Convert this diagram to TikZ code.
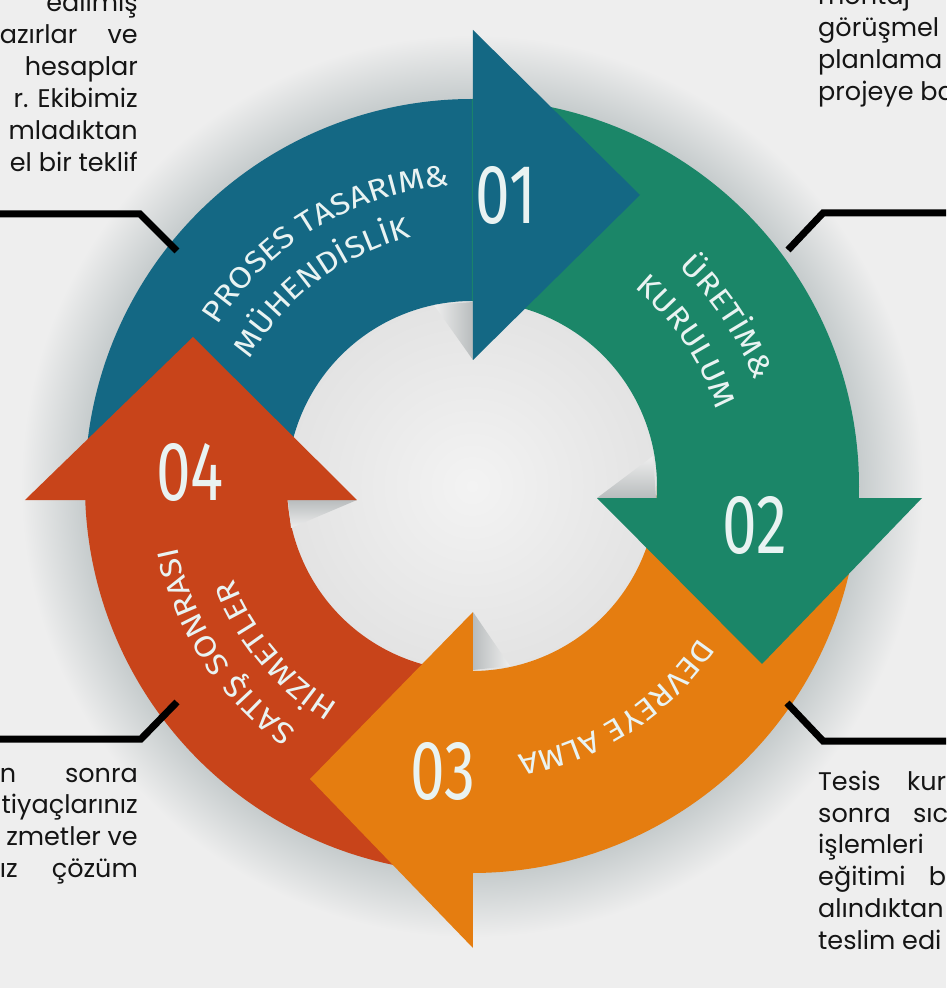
\documentclass[tikz,border=0pt]{standalone}
\usepackage{fontspec}
\setmainfont{Poppins}
\newfontfamily\arcfam[FakeStretch=1.12]{Fira Sans}
\newfontfamily\numfam[FakeStretch=0.74]{Fira Sans}
\usetikzlibrary{decorations.text}

\definecolor{bgGray}{HTML}{EEEEEE}
\definecolor{haloGray}{HTML}{C4CACB}
\definecolor{holeLight}{HTML}{F3F3F3}
\definecolor{holeEdge}{HTML}{E3E3E3}
\definecolor{foldGray}{HTML}{B8BCBD}
\definecolor{stepTeal}{HTML}{146884}
\definecolor{stepGreen}{HTML}{1B8668}
\definecolor{stepOrange}{HTML}{E57D10}
\definecolor{stepRed}{HTML}{C8441A}
\definecolor{labelWhite}{HTML}{E9F3F2}
\definecolor{bodyInk}{HTML}{151515}

\pgfdeclareradialshading{ringhalo}{\pgfpointorigin}{color(0bp)=(haloGray); color(20.4bp)=(haloGray); color(24bp)=(bgGray); color(50bp)=(bgGray)}

\newcommand\arcfont{\arcfam\fontsize{30}{32}\selectfont}

\tikzset{
  connector/.style={line width=7pt, black, line join=miter},
  bodyR/.style={anchor=base east, inner sep=0pt, font=\fontsize{25.5}{32}\selectfont, text=bodyInk},
  bodyL/.style={anchor=base west, inner sep=0pt, font=\fontsize{25.5}{32}\selectfont, text=bodyInk},
  numlabel/.style={inner sep=0pt, font=\numfam\fontsize{84}{84}\selectfont, text=labelWhite},
  arclabel/.style={decorate, decoration={text along path, text align=center, text color=labelWhite}}
}

\begin{document}
\begin{tikzpicture}[x=1pt,y=1pt]
            \useasboundingbox (-472,-502) rectangle (474,486);
            \clip (-472,-502) rectangle (474,486);
            \fill[bgGray] (-472,-502) rectangle (474,486);
            \shade[shading=ringhalo] (0,0) circle[radius=470];
            \shade[inner color=holeLight, outer color=holeEdge] (0,0) circle[radius=187];

            % ring parts
            \fill[stepTeal] (180:387) arc[start angle=180, end angle=84, radius=387] -- (84:185) arc[start angle=84, end angle=180, radius=185] -- cycle;
            \fill[stepOrange] (0:387) arc[start angle=0, end angle=-96, radius=387] -- (-96:185) arc[start angle=-96, end angle=0, radius=185] -- cycle;
            \fill[stepGreen] (90:387) arc[start angle=90, end angle=-6, radius=387] -- (-6:185) arc[start angle=-6, end angle=90, radius=185] -- cycle;
            \fill[stepRed] (-90:387) arc[start angle=-90, end angle=-186, radius=387] -- (-186:185) arc[start angle=-186, end angle=-90, radius=185] -- cycle;

            % folds under the heads
            \shade[left color=bgGray, right color=foldGray] (-38,181) -- (1,184) -- (1,126) -- cycle;
            \shade[top color=bgGray, bottom color=foldGray] (125,-12) -- (184,-12) -- (181,30) -- cycle;
            \shade[left color=foldGray, right color=bgGray] (1,-126) -- (1,-184) -- (38,-180) -- cycle;
            \shade[top color=foldGray, bottom color=bgGray] (-115,-14) -- (-184,-14) -- (-181,-42) -- cycle;

            % heads
            \fill[stepTeal] (1,126) -- (1,456) -- (168,291) -- cycle;
            \fill[stepGreen] (125,-12) -- (450,-12) -- (290,-178) -- cycle;
            \fill[stepOrange] (1,-126) -- (1,-462) -- (-162,-293) -- cycle;
            \fill[stepRed] (-115,-14) -- (-447,-14) -- (-279,149) -- cycle;

            % labels on the ring
            \path[arclabel, decoration={text={|\arcfont|PROSES TASARIM{\&}}}] (166:301) arc[start angle=166, end angle=76, radius=301];
            \path[arclabel, decoration={text={|\arcfont|MÜHENDİSLİK}}] (172:256) arc[start angle=172, end angle=82, radius=256];
            \path[arclabel, decoration={text={|\arcfont|ÜRETİM{\&}}}] (78:301) arc[start angle=78, end angle=-11, radius=301];
            \path[arclabel, decoration={text={|\arcfont|KURULUM}}] (79:256) arc[start angle=79, end angle=-11, radius=256];
            \path[arclabel, decoration={text={|\arcfont|DEVREYE ALMA}}] (-12:273) arc[start angle=-12, end angle=-102, radius=273];
            \path[arclabel, decoration={text={|\arcfont|SATIŞ SONRASI}}] (-102:301) arc[start angle=-102, end angle=-192, radius=301];
            \path[arclabel, decoration={text={|\arcfont|HİZMETLER}}] (-95:256) arc[start angle=-95, end angle=-185, radius=256];

            \node[numlabel] (n01) at (34,291) {01};
            \node[numlabel] (n02) at (283,-39) {02};
            \node[numlabel] (n03) at (-29,-285) {03};
            \node[numlabel] (n04) at (-282,14) {04};

            % connectors
            \coordinate (tlEdge) at (-480,272);
            \coordinate (tlKnee) at (-332,272);
            \coordinate (tlTip) at (-295,235);
            \coordinate (trEdge) at (480,273);
            \coordinate (trKnee) at (351,273);
            \coordinate (trTip) at (316,236);
            \coordinate (blEdge) at (-480,-253);
            \coordinate (blKnee) at (-331,-253);
            \coordinate (blTip) at (-295,-216);
            \coordinate (brEdge) at (480,-255);
            \coordinate (brKnee) at (351,-255);
            \coordinate (brTip) at (315,-217);
            \draw[connector] (tlEdge) -- (tlKnee) -- (tlTip);
            \draw[connector] (trEdge) -- (trKnee) -- (trTip);
            \draw[connector] (blEdge) -- (blKnee) -- (blTip);
            \draw[connector] (brEdge) -- (brKnee) -- (brTip);

            % texts
            \node[bodyR] (tl1) at (-334,474) {edilmiş};
            \node[bodyR] (tl2) at (-334,442) {\makebox[138pt][s]{azırlar ve}};
            \node[bodyR] (tl3) at (-334,410) {hesaplar};
            \node[bodyR] (tl4) at (-334,378) {r. Ekibimiz};
            \node[bodyR] (tl5) at (-334,346) {mladıktan};
            \node[bodyR] (tl6) at (-334,314) {el bir teklif};

            \node[bodyL] (tr1) at (346,481) {montaj};
            \node[bodyL] (tr2) at (346,449) {görüşmel};
            \node[bodyL] (tr3) at (346,417) {planlama};
            \node[bodyL] (tr4) at (346,385) {projeye ba};

            \node[bodyR] (bl1) at (-334,-296) {\makebox[138pt][s]{n sonra}};
            \node[bodyR] (bl2) at (-334,-327) {tiyaçlarınız};
            \node[bodyR] (bl3) at (-334,-359) {zmetler ve};
            \node[bodyR] (bl4) at (-334,-391) {\makebox[138pt][s]{ız çözüm}};

            \node[bodyL] (br1) at (346,-304) {\makebox[128pt][s]{Tesis kur}};
            \node[bodyL] (br2) at (346,-336) {\makebox[130pt][s]{sonra sıc}};
            \node[bodyL] (br3) at (346,-367) {işlemleri};
            \node[bodyL] (br4) at (346,-399) {\makebox[128pt][s]{eğitimi b}};
            \node[bodyL] (br5) at (346,-431) {alındıktan};
            \node[bodyL] (br6) at (346,-463) {teslim edi};
\end{tikzpicture}
\end{document}
